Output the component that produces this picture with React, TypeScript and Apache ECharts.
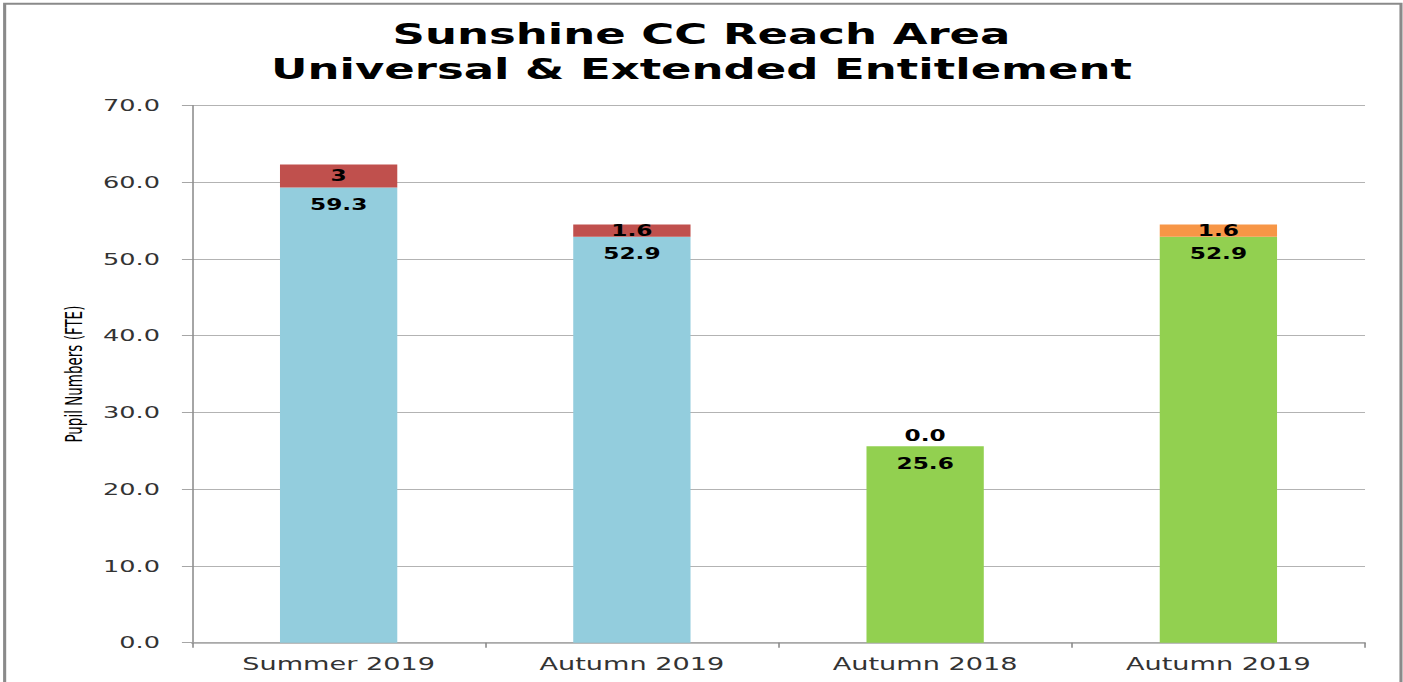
import React, { useEffect, useRef } from "react";
import * as echarts from "echarts";

const titleLines = ["Sunshine CC Reach Area", "Universal & Extended Entitlement"];
const categories = ["Summer 2019", "Autumn 2019", "Autumn 2018", "Autumn 2019"];
const baseValues = [59.3, 52.9, 25.6, 52.9];
const extraValues = [3, 1.6, 0.0, 1.6];
const extraLabels = ["3", "1.6", "0.0", "1.6"];
const yTicks = [0, 10, 20, 30, 40, 50, 60, 70];
const yAxisName = "Pupil Numbers (FTE)";

// styles
const BASE_COLORS = ["#93CDDD", "#93CDDD", "#92D050", "#92D050"];
const EXTRA_COLORS = ["#C0504D", "#C0504D", "#F79646", "#F79646"];

const PAGE_W = 1403;
const PAGE_H = 682;
const INNER_W = 905;
const SX = PAGE_W / INNER_W;

export default function App() {
  const ref = useRef<HTMLDivElement>(null);
  useEffect(() => {
    if (!ref.current) return;
    const chart = echarts.init(ref.current, null, { renderer: "svg" });
    const labelFont = { fontFamily: "DejaVu Sans", fontWeight: "bold" as const, fontSize: 15, color: "#000" };
    chart.setOption({
      animation: false,
      backgroundColor: "#fff",
      title: [
        {
          text: titleLines[0],
          left: "center",
          top: 15,
          textStyle: { fontFamily: "DejaVu Sans", fontWeight: "bold", fontSize: 29, color: "#000" },
        },
        {
          text: titleLines[1],
          left: "center",
          top: 50,
          textStyle: { fontFamily: "DejaVu Sans", fontWeight: "bold", fontSize: 29, color: "#000" },
        },
      ],
      graphic: [
        {
          type: "rect",
          shape: { x: 3, y: 3.7, width: 900.7, height: 720 },
          style: { fill: "none", stroke: "#8a8a8a", lineWidth: 2 },
          silent: true,
        },
      ],
      grid: { left: 123.85, right: 24.5, top: 105.5, bottom: 39.3, containLabel: false },
      xAxis: {
        type: "category",
        data: categories,
        axisLine: { show: true, lineStyle: { color: "#a6a6a6", width: 1.5 } },
        axisTick: { show: true, interval: 0, length: 5, lineStyle: { color: "#888" } },
        axisLabel: {
          interval: 0,
          margin: 12,
          fontFamily: "DejaVu Sans",
          fontSize: 17.5,
          color: "#333",
        },
      },
      yAxis: {
        type: "value",
        min: yTicks[0],
        max: yTicks[yTicks.length - 1],
        interval: 10,
        name: yAxisName,
        nameLocation: "middle",
        nameRotate: 90,
        nameGap: 64,
        nameTextStyle: { fontFamily: "Liberation Sans Narrow, DejaVu Sans Condensed, sans-serif", fontSize: 15, color: "#000" },
        axisLine: { show: true, lineStyle: { color: "#8c8c8c", width: 1 } },
        axisTick: { show: true, length: 6.5, lineStyle: { color: "#a6a6a6" } },
        splitLine: { show: true, lineStyle: { color: "#b3b3b3", width: 1 } },
        axisLabel: {
          margin: 20.7,
          fontFamily: "DejaVu Sans",
          fontSize: 16.5,
          color: "#333",
          formatter: (v: number) => v.toFixed(1),
        },
      },
      series: [
        {
          type: "bar",
          stack: "total",
          barWidth: "40%",
          data: baseValues.map((v, i) => ({ value: v, itemStyle: { color: BASE_COLORS[i] } })),
          label: {
            show: true,
            position: "insideTop",
            distance: 10,
            ...labelFont,
            formatter: (p: any) => Number(p.value).toFixed(1),
          },
        },
        {
          type: "bar",
          stack: "total",
          barWidth: "40%",
          data: extraValues.map((v, i) => ({
            value: v,
            itemStyle: { color: EXTRA_COLORS[i] },
            label: v === 0 ? { position: "top", distance: 3 } : undefined,
          })),
          label: {
            show: true,
            position: "inside",
            ...labelFont,
            formatter: (p: any) => extraLabels[p.dataIndex],
          },
        },
      ],
    });
    return () => chart.dispose();
  }, []);
  return (
    <div
      style={{
        position: "absolute",
        left: 0,
        top: 0,
        width: PAGE_W,
        height: PAGE_H,
        overflow: "hidden",
        background: "#fff",
      }}
    >
      <div
        ref={ref}
        style={{
          width: INNER_W,
          height: PAGE_H,
          transform: `scaleX(${SX})`,
          transformOrigin: "0 0",
        }}
      />
    </div>
  );
}
